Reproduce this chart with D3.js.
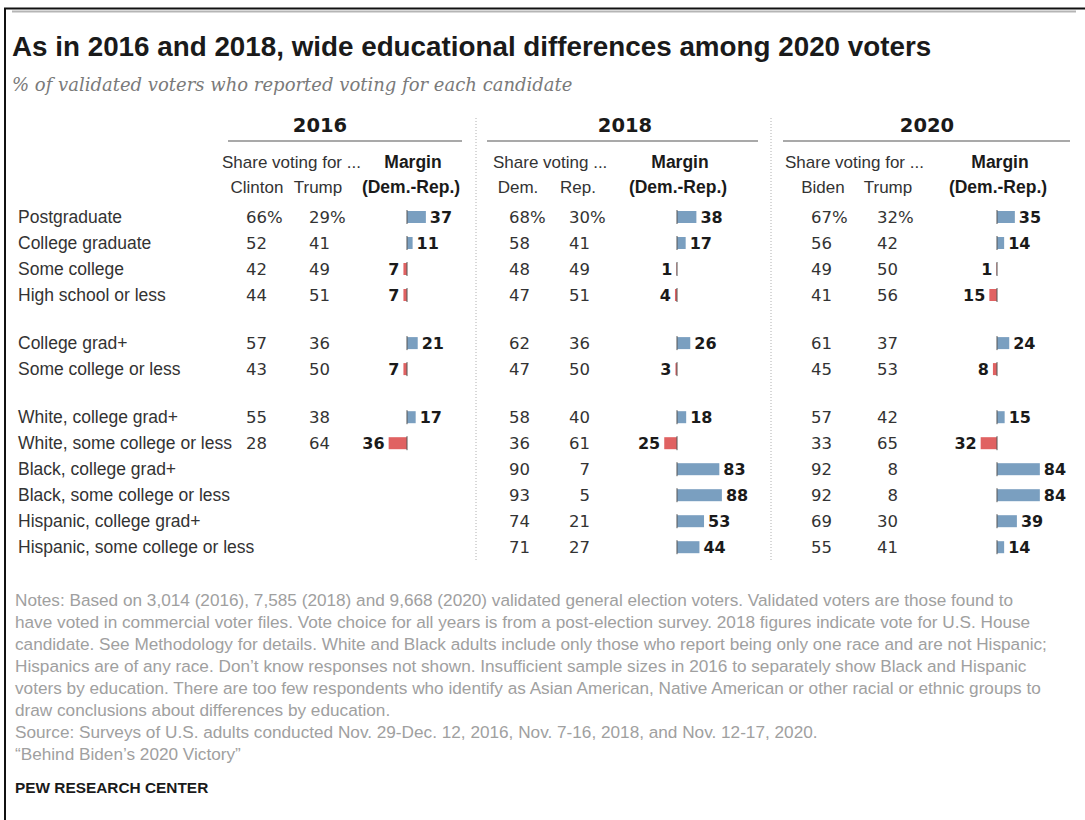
<!DOCTYPE html>
<html lang="en">
<head>
    <meta charset="UTF-8">
    <title>Educational differences among 2020 voters</title>
    <script src="https://d3js.org/d3.v7.min.js"></script>
    <style>
        body { margin: 0; background: #fff; }
        text { font-family: "Liberation Sans", Arial, sans-serif; }
        .title { font-size: 27.8px; font-weight: bold; fill: #1a1a1a; }
        .subtitle { font-family: "DejaVu Serif", Georgia, serif; font-style: italic; font-size: 18px; fill: #7a7a7a; }
        .year { font-family: "DejaVu Sans", sans-serif; font-size: 19.5px; font-weight: bold; fill: #1a1a1a; }
        .head { font-size: 17px; fill: #333; }
        .headb { font-size: 17.5px; font-weight: bold; fill: #1a1a1a; }
        .row { font-size: 17.5px; fill: #333; }
        .val { font-family: "DejaVu Sans", sans-serif; font-size: 16.5px; fill: #333; }
        .mlab { font-family: "DejaVu Sans", sans-serif; font-size: 16px; font-weight: bold; fill: #1a1a1a; }
        .note { font-size: 17.2px; fill: #a0a0a0; }
        .brand { font-size: 15.4px; font-weight: bold; fill: #1a1a1a; }
    </style>
</head>
<body>
<svg width="1085" height="820"></svg>

<script>
    // ---- data ----
    const rowLabels = ["Postgraduate", "College graduate", "Some college", "High school or less",
        "College grad+", "Some college or less",
        "White, college grad+", "White, some college or less", "Black, college grad+",
        "Black, some college or less", "Hispanic, college grad+", "Hispanic, some college or less"];
    const rowGroup = [0, 0, 0, 0, 1, 1, 2, 2, 2, 2, 2, 2];

    const years = ["2016", "2018", "2020"];
    const shareHeads = ["Share voting for ...", "Share voting ...", "Share voting for ..."];
    const demNames = ["Clinton", "Dem.", "Biden"];
    const repNames = ["Trump", "Rep.", "Trump"];

    const dem2016 = [66, 52, 42, 44, 57, 43, 55, 28, null, null, null, null];
    const rep2016 = [29, 41, 49, 51, 36, 50, 38, 64, null, null, null, null];
    const margin2016 = [37, 11, -7, -7, 21, -7, 17, -36, null, null, null, null];

    const dem2018 = [68, 58, 48, 47, 62, 47, 58, 36, 90, 93, 74, 71];
    const rep2018 = [30, 41, 49, 51, 36, 50, 40, 61, 7, 5, 21, 27];
    const margin2018 = [38, 17, -1, -4, 26, -3, 18, -25, 83, 88, 53, 44];

    const dem2020 = [67, 56, 49, 41, 61, 45, 57, 33, 92, 92, 69, 55];
    const rep2020 = [32, 42, 50, 56, 37, 53, 42, 65, 8, 8, 30, 41];
    const margin2020 = [35, 14, -1, -15, 24, -8, 15, -32, 84, 84, 39, 14];

    const notes = [
        "Notes: Based on 3,014 (2016), 7,585 (2018) and 9,668 (2020) validated general election voters. Validated voters are those found to",
        "have voted in commercial voter files. Vote choice for all years is from a post-election survey. 2018 figures indicate vote for U.S. House",
        "candidate. See Methodology for details. White and Black adults include only those who report being only one race and are not Hispanic;",
        "Hispanics are of any race. Don\u2019t know responses not shown. Insufficient sample sizes in 2016 to separately show Black and Hispanic",
        "voters by education. There are too few respondents who identify as Asian American, Native American or other racial or ethnic groups to",
        "draw conclusions about differences by education.",
        "Source: Surveys of U.S. adults conducted Nov. 29-Dec. 12, 2016, Nov. 7-16, 2018, and Nov. 12-17, 2020.",
        "\u201cBehind Biden\u2019s 2020 Victory\u201d"
    ];

    const panelData = [
        {dem: dem2016, rep: rep2016, margin: margin2016},
        {dem: dem2018, rep: rep2018, margin: margin2018},
        {dem: dem2020, rep: rep2020, margin: margin2020}
    ];

    // ---- layout ----
    const panelLayout = [
        {x0: 228, x1: 462, yearX: 320, shareX: 222, demX: 267, repX: 330, demHX: 257, repHX: 318, marX: 411, zero: 407},
        {x0: 487, x1: 758, yearX: 625, shareX: 493, demX: 530, repX: 590, demHX: 518, repHX: 578, marX: 678, zero: 677},
        {x0: 783, x1: 1070, yearX: 927, shareX: 785, demX: 832, repX: 898, demHX: 823, repHX: 888, marX: 998, zero: 997}
    ];
    const separators = [476, 771];

    const blue = "#7a9fc0", red = "#e06262";

    let svg = d3.select("svg");

    // row position: index plus a gap between groups
    const y = d3.scaleLinear().domain([0, 1]).range([223, 249]);
    const rowY = i => y(i + rowGroup[i] * 0.85);

    // bar length scale (percentage points -> px)
    const barX = d3.scaleLinear().domain([0, 100]).range([0, 51]);

    // frame
    svg.append("line").attr("x1", 4).attr("x2", 1085).attr("y1", 8.5).attr("y2", 8.5)
        .attr("stroke", "#111").attr("stroke-width", 2);
    svg.append("line").attr("x1", 12).attr("x2", 1076).attr("y1", 11.5).attr("y2", 11.5)
        .attr("stroke", "#b5b5b5").attr("stroke-width", 2);
    svg.append("line").attr("x1", 5).attr("x2", 5).attr("y1", 8).attr("y2", 820)
        .attr("stroke", "#111").attr("stroke-width", 2);

    svg.append("text").attr("class", "title").attr("x", 12).attr("y", 56)
        .text("As in 2016 and 2018, wide educational differences among 2020 voters");
    svg.append("text").attr("class", "subtitle").attr("x", 12).attr("y", 91)
        .text("% of validated voters who reported voting for each candidate");

    // dotted separators
    svg.selectAll("line.sep").data(separators).enter().append("line")
        .attr("class", "sep")
        .attr("x1", d => d).attr("x2", d => d)
        .attr("y1", 118).attr("y2", 562)
        .attr("stroke", "#b0b0b0").attr("stroke-width", 1).attr("stroke-dasharray", "1,2");

    // row labels
    svg.append("g").selectAll("text").data(rowLabels).enter().append("text")
        .attr("class", "row")
        .attr("x", 18)
        .attr("y", (d, i) => rowY(i))
        .text(d => d);

    panelLayout.forEach(function (p, k) {
        let g = svg.append("g");
        let pd = panelData[k];

        g.append("text").attr("class", "year").attr("x", p.yearX).attr("y", 132)
            .attr("text-anchor", "middle").text(years[k]);
        g.append("line").attr("x1", p.x0).attr("x2", p.x1).attr("y1", 141).attr("y2", 141)
            .attr("stroke", "#555").attr("stroke-width", 1.2);

        g.append("text").attr("class", "head").attr("x", p.shareX).attr("y", 168).text(shareHeads[k]);
        g.append("text").attr("class", "head").attr("x", p.demHX).attr("y", 193)
            .attr("text-anchor", "middle").text(demNames[k]);
        g.append("text").attr("class", "head").attr("x", p.repHX).attr("y", 193)
            .attr("text-anchor", "middle").text(repNames[k]);
        g.append("text").attr("class", "headb").attr("x", p.marX + 2).attr("y", 168)
            .attr("text-anchor", "middle").text("Margin");
        g.append("text").attr("class", "headb").attr("x", p.marX).attr("y", 193)
            .attr("text-anchor", "middle").text("(Dem.-Rep.)");

        let rows = rowLabels.map((d, i) => i).filter(i => pd.margin[i] !== null);

        // share values, right aligned with a hanging % on the first row
        [[pd.dem, p.demX], [pd.rep, p.repX]].forEach(function (col) {
            g.append("g").selectAll("text").data(rows).enter().append("text")
                .attr("class", "val")
                .attr("x", col[1]).attr("y", i => rowY(i))
                .attr("text-anchor", "end")
                .text(i => col[0][i]);
            g.append("text").attr("class", "val").attr("x", col[1]).attr("y", rowY(0)).text("%");
        });

        // margin bars
        g.append("g").selectAll("rect").data(rows).enter().append("rect")
            .attr("x", i => pd.margin[i] >= 0 ? p.zero : p.zero - barX(-pd.margin[i]))
            .attr("y", i => rowY(i) - 12)
            .attr("width", i => barX(Math.abs(pd.margin[i])))
            .attr("height", 12)
            .attr("fill", i => pd.margin[i] >= 0 ? blue : red);

        g.append("g").selectAll("line").data(rows).enter().append("line")
            .attr("x1", p.zero).attr("x2", p.zero)
            .attr("y1", i => rowY(i) - 13).attr("y2", i => rowY(i) + 1)
            .attr("stroke", "#555").attr("stroke-width", 1);

        g.append("g").selectAll("text").data(rows).enter().append("text")
            .attr("class", "mlab")
            .attr("x", i => pd.margin[i] >= 0 ? p.zero + barX(pd.margin[i]) + 4 : p.zero - barX(-pd.margin[i]) - 4)
            .attr("y", i => rowY(i))
            .attr("text-anchor", i => pd.margin[i] >= 0 ? "start" : "end")
            .text(i => Math.abs(pd.margin[i]));
    });

    // notes
    svg.append("g").selectAll("text").data(notes).enter().append("text")
        .attr("class", "note")
        .attr("x", 15)
        .attr("y", (d, i) => 606 + i * 22)
        .text(d => d);

    svg.append("text").attr("class", "brand").attr("x", 15).attr("y", 793).text("PEW RESEARCH CENTER");
</script>
</body>
</html>
